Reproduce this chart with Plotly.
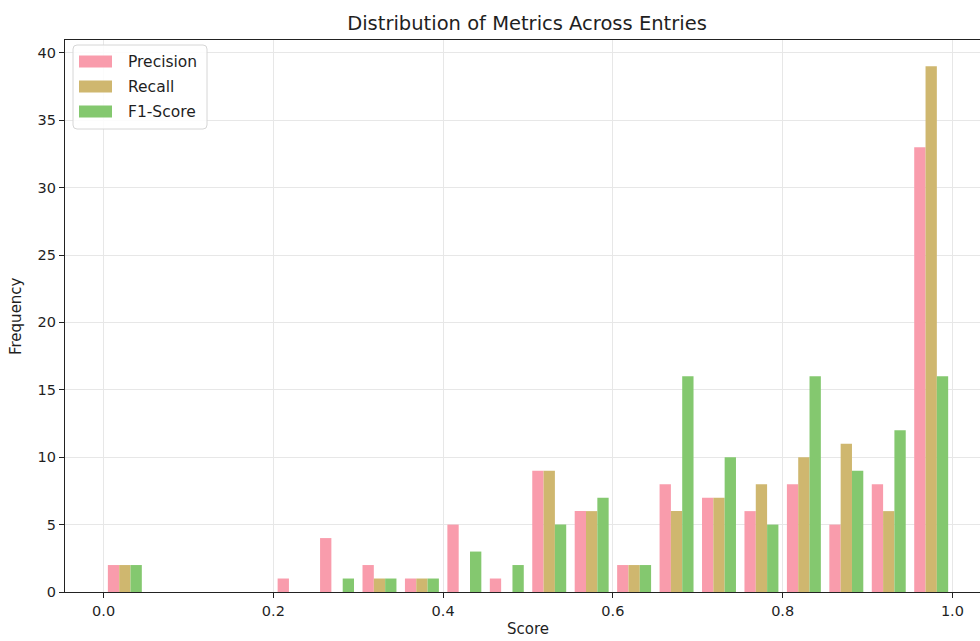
import plotly.graph_objects as go

# Histogram bins: 20 equal-width bins over [0, 1]
bin_edges = [round(i * 0.05, 2) for i in range(21)]

# Counts per bin for each metric
precision_counts = [2, 0, 0, 0, 1, 4, 2, 1, 5, 1, 9, 6, 2, 8, 7, 6, 8, 5, 8, 33]
recall_counts    = [2, 0, 0, 0, 0, 0, 1, 1, 0, 0, 9, 6, 2, 6, 7, 8, 10, 11, 6, 39]
f1_counts        = [2, 0, 0, 0, 0, 1, 1, 1, 3, 2, 5, 7, 2, 16, 10, 5, 16, 9, 12, 16]

series_names = ["Precision", "Recall", "F1-Score"]
series_colors = ["#f99cac", "#cfb76f", "#84c86f"]

x_ticks = [0.0, 0.2, 0.4, 0.6, 0.8, 1.0]
y_ticks = [0, 5, 10, 15, 20, 25, 30, 35, 40]

bin_centers = [(a + b) / 2 for a, b in zip(bin_edges[:-1], bin_edges[1:])]

FONT = "DejaVu Sans"
TXT = "#1f1f1f"

fig = go.Figure()
for name, counts, color in zip(series_names, [precision_counts, recall_counts, f1_counts], series_colors):
    fig.add_trace(go.Bar(
        x=bin_centers, y=counts, name=name,
        marker=dict(color=color, line=dict(width=0)),
        showlegend=False,
    ))

L, T, B, W, H = 65, 40, 49, 980, 641

fig.update_layout(
    width=W, height=H,
    margin=dict(l=L, r=0, t=T, b=B, autoexpand=False),
    paper_bgcolor="white", plot_bgcolor="white",
    barmode="group", bargap=0.2, bargroupgap=0,
    font=dict(family=FONT, size=14.5, color=TXT),
    title=dict(text="Distribution of Metrics Across Entries",
               font=dict(family=FONT, size=19.5, color=TXT),
               x=527 / W, xanchor="center", xref="container",
               y=1 - 23 / H, yanchor="middle", yref="container"),
)

fig.update_xaxes(
    range=[-0.0455, 1.0325],
    tickvals=x_ticks, ticktext=[f"{v:.1f}" for v in x_ticks],
    ticks="outside", ticklen=5, tickwidth=1.1, tickcolor="#222",
    showline=True, linecolor="#222", linewidth=1.2, mirror=True,
    showgrid=True, gridcolor="#e7e7e7", gridwidth=1.1,
    zeroline=False, automargin=False,
    tickfont=dict(family=FONT, size=14.5, color=TXT),
)
fig.update_yaxes(
    range=[0, 40.95],
    tickvals=y_ticks,
    ticks="outside", ticklen=5, tickwidth=1.1, tickcolor="#222",
    showline=True, linecolor="#222", linewidth=1.2, mirror=False,
    showgrid=True, gridcolor="#e7e7e7", gridwidth=1.1,
    zeroline=False, automargin=False,
    tickfont=dict(family=FONT, size=14.5, color=TXT),
)

# Axis titles
fig.add_annotation(text="Score", xref="x", x=0.5, yref="paper", y=0,
                   yanchor="bottom", yshift=-(B - 1), showarrow=False,
                   font=dict(family=FONT, size=15, color=TXT))
fig.add_annotation(text="Frequency", xref="paper", x=0, xanchor="center",
                   xshift=-49, yref="paper", y=0.5, yanchor="middle",
                   textangle=-90, showarrow=False,
                   font=dict(family=FONT, size=15, color=TXT))

# Legend box (pixel offsets from the top-left corner of the axes)
def rounded_box(x0, y0, x1, y1, r):
    return (f"M{x0 + r},{y0} L{x1 - r},{y0} Q{x1},{y0} {x1},{y0 - r} "
            f"L{x1},{y1 + r} Q{x1},{y1} {x1 - r},{y1} L{x0 + r},{y1} "
            f"Q{x0},{y1} {x0},{y1 + r} L{x0},{y0 - r} Q{x0},{y0} {x0 + r},{y0} Z")

fig.add_shape(type="path", xref="paper", yref="paper",
              xsizemode="pixel", ysizemode="pixel", xanchor=0, yanchor=1,
              path=rounded_box(8, -5, 142, -89, 4),
              fillcolor="rgba(255,255,255,0.85)",
              line=dict(color="#d6d6d6", width=1))

for i, (name, color) in enumerate(zip(series_names, series_colors)):
    cy = -21.5 - 25 * i
    fig.add_shape(type="rect", xref="paper", yref="paper",
                  xsizemode="pixel", ysizemode="pixel", xanchor=0, yanchor=1,
                  x0=14, x1=47, y0=cy + 6, y1=cy - 6,
                  fillcolor=color, line=dict(width=0))
    fig.add_annotation(text=name, xref="paper", x=0, xanchor="left", xshift=61,
                       yref="paper", y=1, yanchor="middle", yshift=cy,
                       showarrow=False,
                       font=dict(family=FONT, size=15.5, color=TXT))

fig.write_html("out.html")
